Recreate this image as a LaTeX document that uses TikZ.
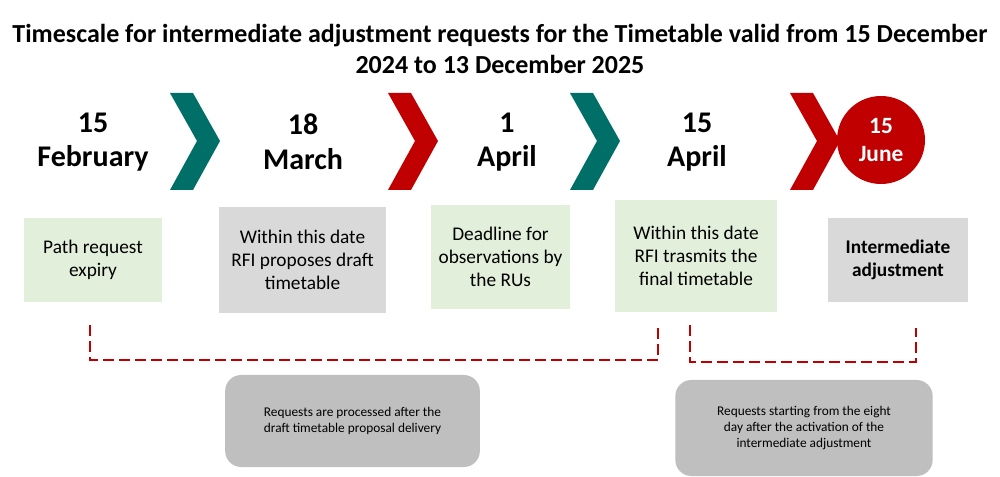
\documentclass[tikz,border=0pt]{standalone}
\usepackage{fontspec}
\setmainfont{Carlito}
\usetikzlibrary{positioning}
\definecolor{teal1}{HTML}{006F68}
\definecolor{red1}{HTML}{C00000}
\definecolor{green1}{HTML}{E2EFDA}
\definecolor{gray1}{HTML}{D9D9D9}
\definecolor{gray2}{HTML}{BFBFBF}
\tikzset{
  datelbl/.style={font=\bfseries\fontsize{22.5}{26}\selectfont, align=center},
  infobox/.style={align=center, font=\fontsize{14.5}{17}\selectfont, inner sep=4pt},
  notebox/.style={fill=gray2, rounded corners=12pt, align=center, font=\fontsize{10}{12}\selectfont},
  deadline/.style={red1, line width=2.2pt, dash pattern=on 8pt off 4pt}
}
\newcommand{\chev}[2]{\fill[#2] (#1,-93) -- ++(23,0) -- ++(27,-48) -- ++(-27,-49) -- ++(-23,0) -- ++(27,49) -- cycle;}
\begin{document}
\begin{tikzpicture}[x=0.75pt, y=0.75pt]
  \useasboundingbox (0,0) rectangle (1000,-477);

  \node[font=\bfseries\fontsize{19.5}{23}\selectfont, align=center] (title) at (500,-49)
    {Timescale for intermediate adjustment requests for the Timetable valid from 15 December\\2024 to 13 December 2025};

  \node[datelbl] (d1) at (93,-142) {15\\February};
  \node[datelbl] (d2) at (303,-142) {18\\March};
  \node[datelbl] (d3) at (507,-142) {1\\April};
  \node[datelbl] (d4) at (697,-142) {15\\April};
  \node[circle, fill=red1, minimum size=66pt, inner sep=0pt] (c5) at (881,-140) {};
  \node[datelbl, text=white, font=\bfseries\fontsize{17.5}{21}\selectfont] (d5) at (c5) {15\\June};

  \chev{170}{teal1}
  \chev{388}{red1}
  \chev{570}{teal1}
  \chev{790}{red1}

  \fill[green1] (24,-218) rectangle (162,-302);
  \node[infobox] (b1) at (93,-260) {Path request\\expiry};
  \fill[gray1] (219,-207) rectangle (386,-313);
  \node[infobox] (b2) at (302.5,-260) {Within this date\\RFI proposes draft\\timetable};
  \fill[green1] (431,-205) rectangle (570,-309);
  \node[infobox] (b3) at (500.5,-257) {Deadline for\\observations by\\the RUs};
  \fill[green1] (615,-200) rectangle (777,-312);
  \node[infobox] (b4) at (696,-256) {Within this date\\RFI trasmits the\\final timetable};
  \fill[gray1] (828,-218) rectangle (968,-302);
  \node[infobox, font=\bfseries\fontsize{14.5}{17}\selectfont] (b5) at (898,-260) {Intermediate\\adjustment};

  \draw[deadline] (90,-325) -- (90,-360) -- (658,-360) -- (658,-325);
  \draw[deadline] (690,-325) -- (690,-362) -- (916,-362) -- (916,-328);

  \node[notebox, minimum width=191pt, minimum height=69pt] (n1) at (352.5,-421)
    {Requests are processed after the\\draft timetable proposal delivery};
  \node[notebox, minimum width=193pt, minimum height=72pt] (n2) at (804,-428)
    {Requests starting from the eight\\day after the activation of the\\intermediate adjustment};
\end{tikzpicture}
\end{document}
